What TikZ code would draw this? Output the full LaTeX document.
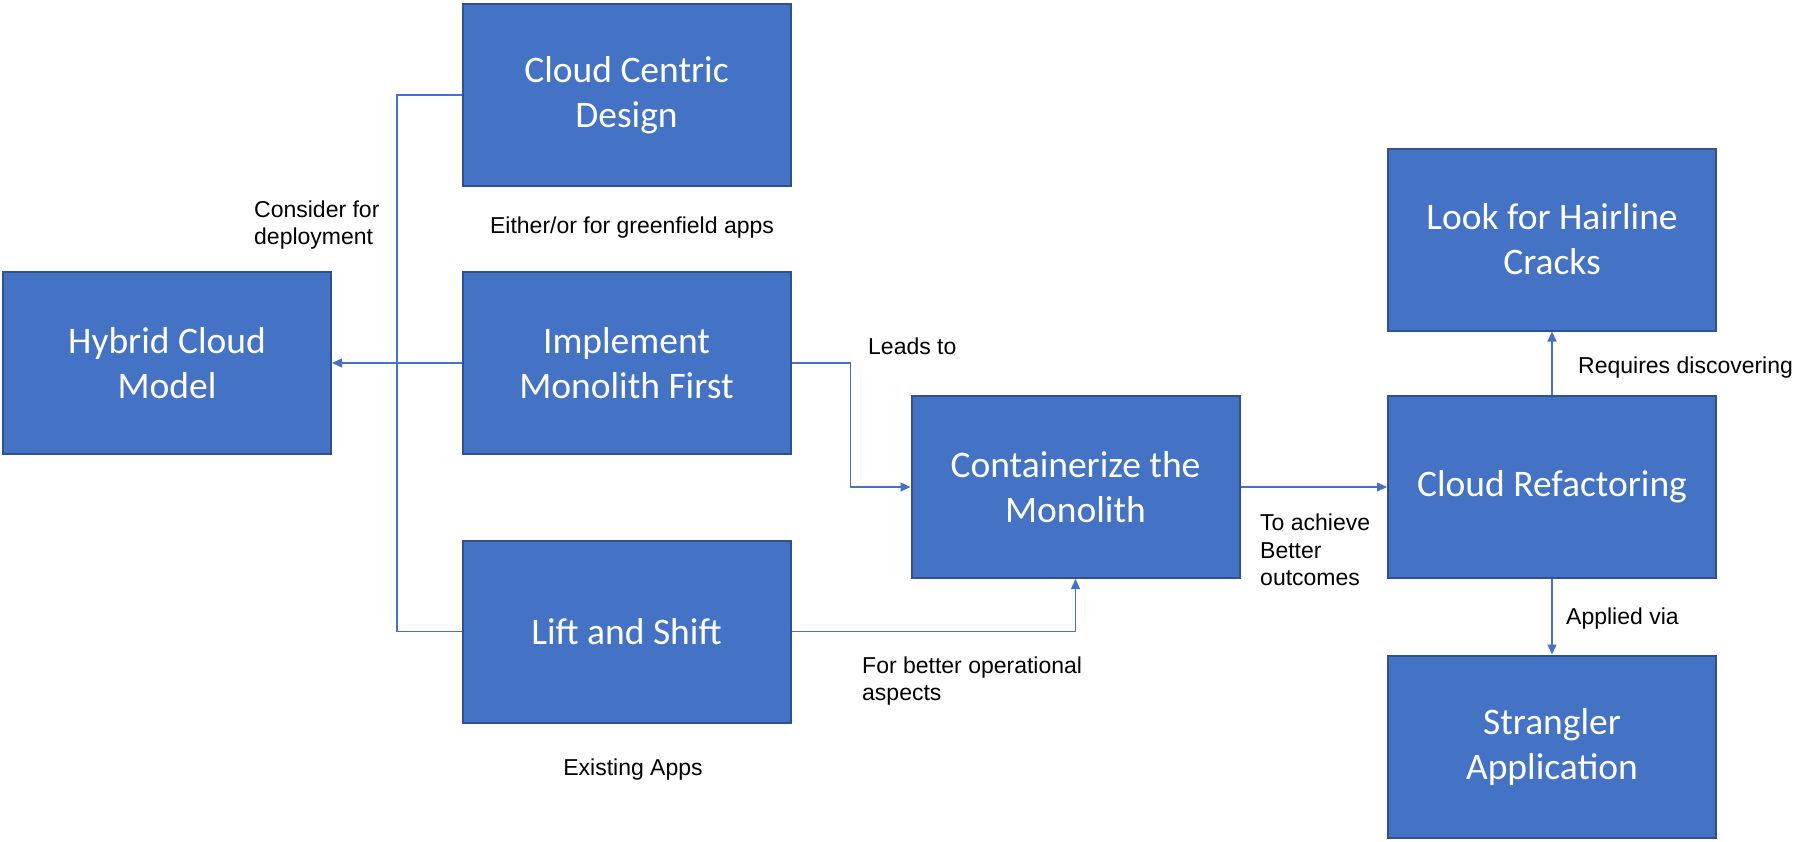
\documentclass[tikz,border=0pt]{standalone}
\usepackage{fontspec}
\setmainfont{Liberation Sans}
\newfontfamily\boxfont{Carlito}
\usetikzlibrary{arrows.meta}
\definecolor{officeblue}{HTML}{4472C4}
\definecolor{boxedge}{HTML}{2F528F}

\begin{document}
\begin{tikzpicture}[x=1pt, y=-1pt,
  every node/.style={font=\fontsize{23}{27.7}\selectfont},
  bluebox/.style={draw=boxedge, line width=2pt, fill=officeblue, text=white,
    minimum width=328pt, minimum height=182pt, inner sep=0pt, align=center,
    font=\boxfont\fontsize{37.5}{45}\selectfont},
  link/.style={draw=officeblue, line width=1.3pt},
  arrowlink/.style={link, -{Triangle[length=10pt, width=9pt]}},
  note/.style={inner sep=0pt, align=left, anchor=west}]

\useasboundingbox (0,0) rectangle (1810,841);

%% ── Boxes ────────────────────────────────────────────────────────────────
\node[bluebox] (design)     at (626.5, 95)    {Cloud Centric\\Design};
\node[bluebox] (hybrid)     at (167, 363)     {Hybrid Cloud\\Model};
\node[bluebox] (implement)  at (626.5, 363)   {Implement\\Monolith First};
\node[bluebox] (lift)       at (626.5, 631.5) {Lift and Shift};
\node[bluebox] (contain)    at (1075.5, 487)  {Containerize the\\Monolith};
\node[bluebox] (refactor)   at (1552, 487)    {Cloud Refactoring};
\node[bluebox] (cracks)     at (1552, 239.5)  {Look for Hairline\\Cracks};
\node[bluebox] (strangler)  at (1552, 746.5)  {Strangler\\Application};

%% ── Connectors ───────────────────────────────────────────────────────────
\coordinate (trunk) at (397, 363);
\coordinate (bend) at (850.5, 363);

\draw[link] (design.west) -| (trunk) |- (lift.west);
\draw[arrowlink] (implement.west) -- (hybrid.east);
\draw[arrowlink] (implement.east) -- (bend) |- (contain.west);
\draw[arrowlink] (lift.east) -| (contain.south);
\draw[arrowlink] (contain.east) -- (refactor.west);
\draw[arrowlink] (refactor.north) -- (cracks.south);
\draw[arrowlink] (refactor.south) -- (strangler.north);

%% ── Labels ───────────────────────────────────────────────────────────────
\node[note] (lconsider) at (254, 225) {Consider for\\deployment};
\node[inner sep=0pt] (leither) at (632, 227.5) {Either/or for greenfield apps};
\node[note] (lleads) at (868, 346.5) {Leads to};
\node[inner sep=0pt] (lexisting) at (633, 769.5) {Existing Apps};
\node[note] (lbetter) at (862, 681) {For better operational\\aspects};
\node[note] (lachieve) at (1260, 550) {To achieve\\Better\\outcomes};
\node[note] (lrequires) at (1578, 367.5) {Requires discovering};
\node[note] (lapplied) at (1566, 618.5) {Applied via};

\end{tikzpicture}
\end{document}
